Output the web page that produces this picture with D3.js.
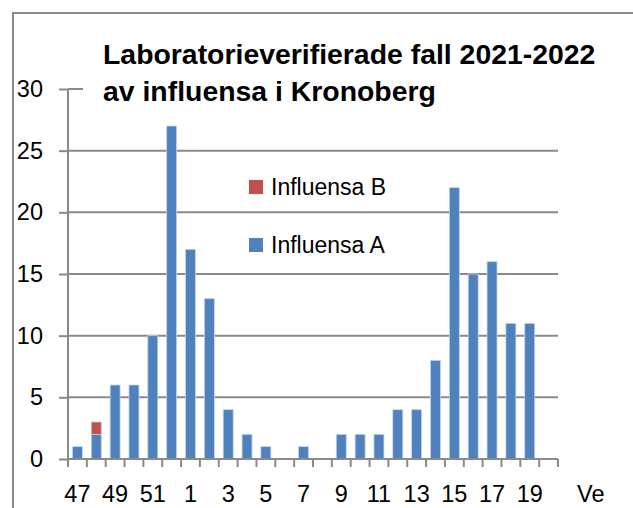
<!DOCTYPE html>
<html>
<head>
<meta charset="utf-8">
<script src="https://cdn.jsdelivr.net/npm/d3@7"></script>
<style>
  body { margin: 0; background: #fff; }
  svg text { font-family: "Liberation Sans", Arial, sans-serif; fill: #000; }
</style>
</head>
<body>
<div class="vis1"></div>
<script>
// weeks 47-52 of 2021, then 1-20 of 2022
var weeks = ["47", "48", "49", "50", "51", "52", "1", "2", "3", "4", "5", "6", "7", "8",
    "9", "10", "11", "12", "13", "14", "15", "16", "17", "18", "19", "20"];
var influensaA = [1, 2, 6, 6, 10, 27, 17, 13, 4, 2, 1, 0, 1, 0,
    2, 2, 2, 4, 4, 8, 22, 15, 16, 11, 11, 0];
var influensaB = [0, 1, 0, 0, 0, 0, 0, 0, 0, 0, 0, 0, 0, 0,
    0, 0, 0, 0, 0, 0, 0, 0, 0, 0, 0, 0];
var yTicks = [0, 5, 10, 15, 20, 25, 30];
var titleLines = ["Laboratorieverifierade fall 2021-2022", "av influensa i Kronoberg"];

var width = 633, height = 508;
var margin = { top: 89, left: 68, right: 75, bottom: 49 };

var svg = d3.select(".vis1")
    .append("svg")
    .attr("width", width)
    .attr("height", height);

// outer frame (runs off the right and bottom edge)
svg.append("rect")
    .attr("x", 13).attr("y", 13)
    .attr("width", width).attr("height", height)
    .style("fill", "none")
    .style("stroke", "#8a8a8a")
    .style("stroke-width", 2);

var x = d3.scaleBand()
    .domain(weeks)
    .range([margin.left, width - margin.right])
    .paddingInner(0.47)
    .paddingOuter(0.235);

var y = d3.scaleLinear()
    .domain([0, 30])
    .range([height - margin.bottom, margin.top]);

// gridlines
svg.append("g")
    .selectAll("line")
    .data(yTicks.slice(1))
    .enter()
    .append("line")
    .attr("x1", margin.left)
    .attr("x2", width - margin.right)
    .attr("y1", d => y(d))
    .attr("y2", d => y(d))
    .style("stroke", "#8a8a8a")
    .style("stroke-width", 2);

// y axis
var yAxis = svg.append("g")
    .attr("transform", "translate(" + margin.left + ",0)")
    .call(d3.axisLeft(y).tickValues(yTicks).tickSize(9).tickPadding(16));
yAxis.selectAll("path, line").style("stroke", "#8a8a8a").style("stroke-width", 2);
yAxis.select(".domain").attr("d", "M0," + y(0) + "V" + y(30));
yAxis.selectAll("text")
    .style("font-size", "23.5px")
    .style("font-family", "Liberation Sans, Arial, sans-serif");

// stacked bars
var rows = weeks.map((w, i) => ({ week: w, a: influensaA[i], b: influensaB[i] }));

svg.append("g")
    .selectAll("rect")
    .data(rows.filter(d => d.a > 0))
    .enter()
    .append("rect")
    .attr("x", d => x(d.week))
    .attr("width", x.bandwidth())
    .attr("y", d => y(d.a))
    .attr("height", d => y(0) - y(d.a))
    .style("fill", "#4f81bd")
    .style("stroke", "#c6d5ea")
    .style("stroke-width", 0.8);

svg.append("g")
    .selectAll("rect")
    .data(rows.filter(d => d.b > 0))
    .enter()
    .append("rect")
    .attr("x", d => x(d.week))
    .attr("width", x.bandwidth())
    .attr("y", d => y(d.a + d.b))
    .attr("height", d => y(d.a) - y(d.a + d.b))
    .style("fill", "#c0504d")
    .style("stroke", "#e6c3c2")
    .style("stroke-width", 0.8);

// x axis: ticks between categories, labels every other week
var xAxisG = svg.append("g");
xAxisG.append("line")
    .attr("x1", margin.left).attr("x2", width - margin.right)
    .attr("y1", y(0)).attr("y2", y(0))
    .style("stroke", "#8a8a8a").style("stroke-width", 2);

var step = x.step();
xAxisG.selectAll(".xtick")
    .data(weeks.concat(["end"]))
    .enter()
    .append("line")
    .attr("class", "xtick")
    .attr("x1", (d, i) => margin.left + i * step)
    .attr("x2", (d, i) => margin.left + i * step)
    .attr("y1", y(0))
    .attr("y2", y(0) + 8)
    .style("stroke", "#8a8a8a").style("stroke-width", 2);

xAxisG.selectAll(".xlabel")
    .data(weeks.filter((d, i) => i % 2 === 0))
    .enter()
    .append("text")
    .attr("class", "xlabel")
    .attr("x", d => x(d) + x.bandwidth() / 2)
    .attr("y", 502)
    .attr("text-anchor", "middle")
    .style("font-size", "23.5px")
    .text(d => d);

svg.append("text")
    .attr("x", 577)
    .attr("y", 502)
    .style("font-size", "23.5px")
    .text("Ve");

// title with white box behind it
svg.append("rect")
    .attr("x", 83).attr("y", 35)
    .attr("width", 540).attr("height", 75)
    .style("fill", "#fff");

svg.append("g")
    .selectAll("text")
    .data(titleLines)
    .enter()
    .append("text")
    .attr("x", 103)
    .attr("y", (d, i) => 64 + i * 37)
    .style("font-size", "28.4px")
    .style("font-weight", "bold")
    .text(d => d);

// legend
var legendItems = [
    { label: "Influensa B", color: "#c0504d", y: 187 },
    { label: "Influensa A", color: "#4f81bd", y: 245 }
];
var legend = svg.append("g");
legend.selectAll("rect")
    .data(legendItems)
    .enter()
    .append("rect")
    .attr("x", 249)
    .attr("y", d => d.y - 7)
    .attr("width", 14)
    .attr("height", 14)
    .style("fill", d => d.color);
legend.selectAll("text")
    .data(legendItems)
    .enter()
    .append("text")
    .attr("x", 271)
    .attr("y", d => d.y + 8)
    .style("font-size", "23px")
    .text(d => d.label);
</script>
</body>
</html>
